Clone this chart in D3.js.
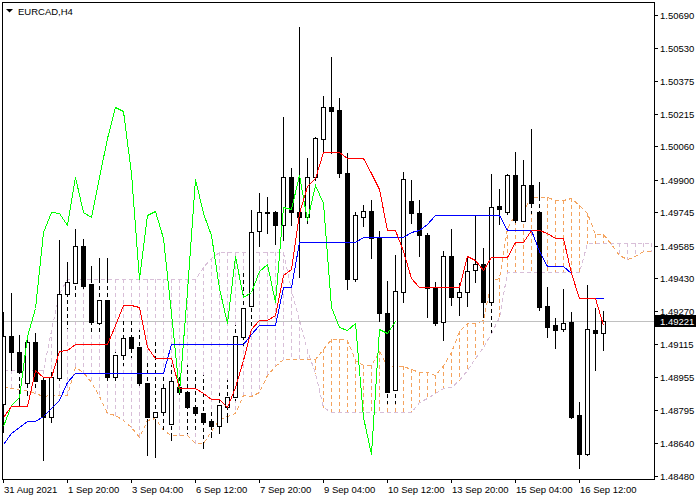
<!DOCTYPE html>
<html><head><meta charset="utf-8">
<script src="https://cdn.jsdelivr.net/npm/d3@7"></script>
<style>
body{margin:0;background:#fff}
svg{display:block}
text{font-family:"Liberation Sans",Arial,sans-serif;font-size:9.5px;fill:#000}
</style></head>
<body><svg width="700" height="500"></svg>
<script>
const symbol = "EURCAD,H4";
const lastPrice = 1.49221;
const yTickValues = [1.50690,1.50530,1.50375,1.50215,1.50060,1.49900,1.49745,1.49585,1.49430,1.49270,1.49115,1.48955,1.48795,1.48640,1.48480];
const xTickLabels = ["31 Aug 2021","1 Sep 20:00","3 Sep 04:00","6 Sep 12:00","7 Sep 20:00","9 Sep 04:00","10 Sep 12:00","13 Sep 20:00","15 Sep 04:00","16 Sep 12:00"];
const xTickBars = [0,8,16,24,32,40,48,56,64,72];

const open = [1.48825,1.49151,1.49074,1.48926,1.49122,1.48940,1.48763,1.48950,1.49353,1.49405,
1.49583,1.49400,1.49214,1.49324,1.48955,1.49060,1.49146,1.49098,1.48926,1.48763,
1.48787,1.48729,1.48907,1.48883,1.48811,1.48782,1.48744,1.48720,1.48811,1.48859,
1.49146,1.49295,1.49655,1.49746,1.49746,1.49683,1.49914,1.49746,1.49722,1.49914,
1.50096,1.50249,1.50235,1.49933,1.49424,1.49722,1.49750,1.49626,1.49261,1.48892,
1.49362,1.49796,1.49741,1.49635,1.49381,1.49218,1.49535,1.49338,1.49362,1.49468,
1.49496,1.49314,1.49774,1.49746,1.49923,1.49703,1.49875,1.49746,1.49295,1.49204,
1.49185,1.49218,1.48772,1.48586,1.49180,1.49166];
const high = [1.49266,1.49357,1.49156,1.49156,1.49166,1.48950,1.48979,1.49611,1.49506,1.49664,
1.49616,1.49487,1.49525,1.49525,1.49074,1.49228,1.49228,1.49180,1.49036,1.49122,
1.48974,1.49012,1.48964,1.49012,1.48998,1.48964,1.48796,1.48878,1.48940,1.49204,
1.49458,1.49755,1.49837,1.49817,1.49750,1.50201,1.49957,1.50633,1.50005,1.50105,
1.50302,1.50489,1.50292,1.50028,1.49746,1.49779,1.49803,1.49655,1.49415,1.49540,
1.49937,1.49899,1.49803,1.49645,1.49410,1.49559,1.49664,1.49405,1.49530,1.49726,
1.49573,1.49928,1.49856,1.49928,1.50033,1.49995,1.50144,1.49889,1.49386,1.49237,
1.49376,1.49266,1.48835,1.49396,1.49285,1.49271];
const low = [1.48691,1.48988,1.48816,1.48868,1.48907,1.48557,1.48739,1.48940,1.49190,1.49338,
1.49381,1.49170,1.49170,1.48940,1.48940,1.49012,1.49051,1.48916,1.48581,1.48571,
1.48701,1.48653,1.48868,1.48686,1.48701,1.48614,1.48667,1.48686,1.48739,1.48844,
1.49108,1.49180,1.49583,1.49645,1.49592,1.49611,1.49683,1.49434,1.49693,1.49899,
1.50033,1.50028,1.49914,1.49376,1.49415,1.49679,1.49525,1.49223,1.48830,1.48830,
1.49314,1.49693,1.49535,1.49242,1.49204,1.49132,1.49300,1.49252,1.49295,1.49410,
1.49242,1.49170,1.49688,1.49736,1.49698,1.49693,1.49741,1.49276,1.49146,1.49094,
1.49175,1.48758,1.48518,1.48581,1.48988,1.49084];
const close = [1.49151,1.49074,1.48979,1.49122,1.48935,1.48763,1.48955,1.49353,1.49410,1.49583,
1.49391,1.49218,1.49324,1.48955,1.49060,1.49142,1.49094,1.48926,1.48763,1.48787,
1.48902,1.48935,1.48883,1.48811,1.48782,1.48739,1.48720,1.48820,1.48859,1.49151,
1.49285,1.49650,1.49746,1.49741,1.49683,1.49914,1.49746,1.49722,1.49914,1.50100,
1.50249,1.50230,1.49933,1.49424,1.49732,1.49750,1.49621,1.49261,1.48883,1.49369,
1.49904,1.49741,1.49635,1.49381,1.49214,1.49535,1.49338,1.49362,1.49463,1.49496,
1.49314,1.49770,1.49760,1.49923,1.49707,1.49875,1.49789,1.49290,1.49194,1.49180,
1.49214,1.48763,1.48586,1.49185,1.49166,1.49221];

const tenkan = [1.48763,1.48816,1.48816,1.48816,1.48988,1.48955,1.48955,1.49079,1.49084,1.49111,
1.49111,1.49111,1.49111,1.49111,1.49202,1.49302,1.49302,1.49290,1.49099,1.49048,
1.49048,1.49048,1.48900,1.48900,1.48900,1.48876,1.48847,1.48847,1.48813,1.48909,
1.49036,1.49185,1.49226,1.49226,1.49252,1.49444,1.49470,1.49739,1.49871,1.49907,
1.50034,1.50034,1.50034,1.50005,1.50005,1.50005,1.49933,1.49856,1.49660,1.49660,
1.49561,1.49429,1.49384,1.49384,1.49384,1.49384,1.49384,1.49384,1.49535,1.49516,
1.49468,1.49530,1.49530,1.49530,1.49602,1.49602,1.49657,1.49657,1.49645,1.49619,
1.49619,1.49451,1.49331,1.49331,1.49331,1.49204];
const kijun = [1.48633,1.48686,1.48715,1.48744,1.48744,1.48768,1.48806,1.48844,1.48931,1.48974,
1.48974,1.48974,1.48974,1.48974,1.48974,1.48974,1.48974,1.48974,1.48974,1.48974,
1.48974,1.49113,1.49113,1.49113,1.49113,1.49111,1.49111,1.49111,1.49111,1.49111,
1.49111,1.49163,1.49204,1.49204,1.49204,1.49386,1.49386,1.49602,1.49602,1.49602,
1.49602,1.49602,1.49602,1.49602,1.49602,1.49624,1.49624,1.49624,1.49624,1.49624,
1.49624,1.49650,1.49660,1.49686,1.49732,1.49732,1.49732,1.49732,1.49732,1.49732,
1.49732,1.49732,1.49732,1.49660,1.49660,1.49660,1.49660,1.49561,1.49487,1.49487,
1.49487,1.49451,1.49331,1.49331,1.49331,1.49331];
const chikou = [1.48720,1.48820,1.48859,1.49151,1.49285,1.49650,1.49746,1.49741,1.49683,1.49914,
1.49746,1.49722,1.49914,1.50100,1.50249,1.50230,1.49933,1.49424,1.49732,1.49750,
1.49621,1.49261,1.48883,1.49369,1.49904,1.49741,1.49635,1.49381,1.49214,1.49535,
1.49338,1.49362,1.49463,1.49496,1.49314,1.49770,1.49760,1.49923,1.49707,1.49875,
1.49789,1.49290,1.49194,1.49180,1.49214,1.48763,1.48586,1.49185,1.49166,1.49221];
const spanA = [1.48907,1.48902,1.48897,1.48892,1.48878,1.48864,1.48868,1.48868,1.48868,1.49003,
1.48979,1.48931,1.48864,1.48782,1.48772,1.48748,1.48715,1.48667,1.48748,1.48758,
1.48701,1.48677,1.48677,1.48677,1.48638,1.48638,1.48698,1.48751,1.48766,1.48780,
1.48866,1.48862,1.48881,1.48962,1.49008,1.49043,1.49043,1.49043,1.49043,1.49043,
1.49088,1.49138,1.49138,1.49132,1.49037,1.49011,1.49011,1.49081,1.49007,1.49007,
1.49007,1.48994,1.48979,1.48979,1.48962,1.49010,1.49074,1.49174,1.49215,1.49215,
1.49228,1.49415,1.49428,1.49671,1.49737,1.49755,1.49818,1.49818,1.49818,1.49804,
1.49804,1.49815,1.49779,1.49740,1.49642,1.49642,1.49593,1.49540,1.49522,1.49535,
1.49558,1.49558];
const spanB = [1.48988,1.48988,1.48988,1.48988,1.48988,1.48988,1.49180,1.49357,1.49424,1.49424,
1.49424,1.49424,1.49424,1.49424,1.49424,1.49424,1.49424,1.49424,1.49424,1.49424,
1.49424,1.49424,1.49424,1.49424,1.49424,1.49482,1.49525,1.49554,1.49554,1.49554,
1.49554,1.49554,1.49554,1.49554,1.49554,1.49554,1.49372,1.49228,1.49084,1.48974,
1.48811,1.48787,1.48787,1.48787,1.48787,1.48787,1.48787,1.48787,1.48787,1.48787,
1.48787,1.48787,1.48835,1.48854,1.48878,1.48902,1.48907,1.48940,1.48988,1.49046,
1.49098,1.49166,1.49242,1.49458,1.49458,1.49458,1.49458,1.49458,1.49458,1.49458,
1.49458,1.49458,1.49458,1.49595,1.49595,1.49595,1.49595,1.49595,1.49595,1.49595,
1.49595,1.49595];

const svg = d3.select("svg");
const x = d3.scaleLinear().domain([0, 81]).range([3.5, 651.5]);
const y = d3.scaleLinear().domain([1.48480, 1.50690]).range([476, 15]);
const ry = v => Math.round(y(v));

svg.append("rect").attr("width",700).attr("height",500).attr("fill","#fff");
svg.append("defs").append("clipPath").attr("id","plot")
  .append("rect").attr("x",3).attr("y",3).attr("width",651).attr("height",476);
const g = svg.append("g").attr("clip-path","url(#plot)").attr("shape-rendering","crispEdges");

const SANDY = "#f4a460", THISTLE = "#d8bfd8";
const cloudIdx = d3.range(spanA.length);
const cTop = i => ry(Math.max(spanA[i], spanB[i]));
const cBot = i => ry(Math.min(spanA[i], spanB[i])) + 1;

// cloud hatch
g.selectAll(".hatch").data(cloudIdx).join("line")
  .attr("x1", i => x(i)).attr("x2", i => x(i))
  .attr("y1", i => cTop(i)).attr("y2", i => cBot(i))
  .attr("stroke", i => spanA[i] > spanB[i] ? SANDY : THISTLE)
  .attr("stroke-width", 1).attr("stroke-dasharray", "4,3");

// span lines (dotted)
const lineGen = d3.line().x((d, i) => x(i)).y(d => ry(d) + 0.5);
g.append("path").attr("d", lineGen(spanB)).attr("fill","none").attr("stroke",THISTLE).attr("stroke-dasharray","4,3");
g.append("path").attr("d", lineGen(spanA)).attr("fill","none").attr("stroke",SANDY).attr("stroke-dasharray","4,3");

// current price line
g.append("line").attr("x1",3).attr("x2",654).attr("y1",ry(lastPrice)+0.5).attr("y2",ry(lastPrice)+0.5)
  .attr("stroke","#c0c0c0");

// candles
const bars = d3.range(open.length);
g.selectAll(".wick").data(bars).join("line")
  .attr("x1", i => x(i)).attr("x2", i => x(i))
  .attr("y1", i => ry(high[i])).attr("y2", i => ry(low[i]) + 1)
  .attr("stroke", "#000");
// wick inside cloud appears dashed
bars.forEach(i => {
  const t = Math.max(ry(high[i]), cTop(i)), b = Math.min(ry(low[i]) + 1, cBot(i));
  if (b - t > 1) {
    g.append("line").attr("x1", x(i)).attr("x2", x(i)).attr("y1", t).attr("y2", b)
      .attr("stroke", "#fff").attr("stroke-dasharray", "3,4")
      .attr("stroke-dashoffset", (t - cTop(i)) - 4);
  }
});
bars.forEach(i => {
  const top = ry(Math.max(open[i], close[i])), bot = ry(Math.min(open[i], close[i]));
  if (bot - top < 1) {
    g.append("line").attr("x1", x(i) - 2.5).attr("x2", x(i) + 2.5)
      .attr("y1", top + 0.5).attr("y2", top + 0.5).attr("stroke", "#000");
  } else {
    g.append("rect").attr("x", x(i) - 2).attr("y", top + 0.5).attr("width", 4).attr("height", bot - top)
      .attr("fill", close[i] >= open[i] ? "#fff" : "#000").attr("stroke", "#000");
  }
});

// indicator lines
g.append("path").attr("d", lineGen(chikou)).attr("fill","none").attr("stroke","#00ff00");
g.append("path").attr("d", lineGen(kijun)).attr("fill","none").attr("stroke","#0000ff");
g.append("path").attr("d", lineGen(tenkan)).attr("fill","none").attr("stroke","#ff0000");

// frame
svg.append("rect").attr("x",2.5).attr("y",2.5).attr("width",652).attr("height",477)
  .attr("fill","none").attr("stroke","#000").attr("shape-rendering","crispEdges");

// right axis
const ax = svg.append("g").attr("shape-rendering","crispEdges");
yTickValues.forEach(v => {
  const yy = ry(v) + 0.5;
  ax.append("line").attr("x1",654).attr("x2",658).attr("y1",yy).attr("y2",yy).attr("stroke","#000");
  svg.append("text").attr("x",660).attr("y",yy).attr("dy","0.35em").text(v.toFixed(5));
});
// bottom axis
xTickBars.forEach((b, k) => {
  const xx = x(b);
  ax.append("line").attr("x1",xx).attr("x2",xx).attr("y1",479).attr("y2",483).attr("stroke","#000");
  svg.append("text").attr("x", xx + 0.5).attr("y", 493).text(xTickLabels[k]);
});

// last price label
const ly = ry(lastPrice);
svg.append("rect").attr("x",655).attr("y",ly-6).attr("width",41).attr("height",12).attr("fill","#000");
svg.append("text").attr("x",660).attr("y",ly+0.5).attr("dy","0.35em").style("fill","#fff").text(lastPrice.toFixed(5));

// title
svg.append("path").attr("d","M6,9L13,9L9.5,12.5Z").attr("fill","#000");
svg.append("text").attr("x",18).attr("y",14.5).text(symbol);
</script>
</body></html>
